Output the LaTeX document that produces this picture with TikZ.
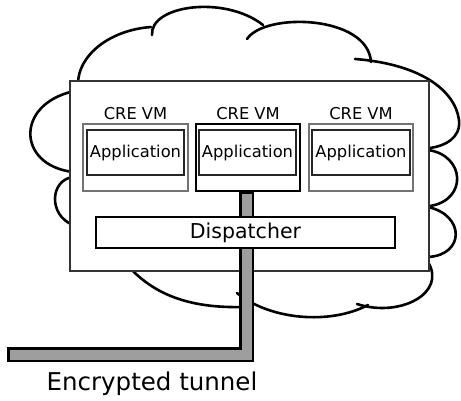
\documentclass[tikz,border=0pt]{standalone}
\usepackage{fontspec}
\setmainfont{DejaVu Sans}
\begin{document}
\begin{tikzpicture}[x=1pt,y=-1pt,
  cloudline/.style={line width=2.6pt,line cap=round},
  hostbox/.style={draw=black!80,line width=1.6pt,fill=white,inner sep=0pt},
  vmbox/.style={draw=black!55,line width=1.3pt,fill=white,inner sep=0pt,minimum height=67pt},
  appbox/.style={draw=black!85,line width=1.2pt,fill=white,inner sep=0pt,minimum height=45pt,
    font=\fontsize{16.3}{19}\selectfont},
  vmlabel/.style={inner sep=0pt,font=\fontsize{16.3}{19}\selectfont},
  dispbox/.style={draw=black,line width=2.2pt,fill=white,inner sep=0pt,
    minimum width=299pt,minimum height=31pt,font=\fontsize{20.5}{24}\selectfont},
  pipeouter/.style={draw=black,line width=15pt},
  pipeinner/.style={draw=black!38,line width=10pt}]
\useasboundingbox (0,0) rectangle (461,400);

% cloud outline, one arc per lobe
\draw[cloudline] (78,84) .. controls (78,55) and (110,30) .. (151,27);
\draw[cloudline] (152,35) .. controls (150,5) and (225,-5) .. (263,25);
\draw[cloudline] (247,39) .. controls (265,12) and (368,15) .. (371,62);
\draw[cloudline] (355,59) .. controls (420,64) and (455,90) .. (459,120)
                 .. controls (461,138) and (445,146) .. (430,148);
\draw[cloudline] (428,150) .. controls (465,155) and (468,200) .. (430,206);
\draw[cloudline] (428,207) .. controls (465,215) and (465,255) .. (428,257);
\draw[cloudline] (428,262) .. controls (447,293) and (400,318) .. (357,304);
\draw[cloudline] (237,293) .. controls (270,320) and (330,325) .. (368,305);
\draw[cloudline] (130,268) .. controls (160,300) and (200,308) .. (243,307);
\draw[cloudline] (80,90) .. controls (15,100) and (15,165) .. (73,172);
\draw[cloudline] (73,177) .. controls (50,180) and (48,215) .. (73,225);

% host machine
\node[hostbox,minimum width=359pt,minimum height=190pt] (host) at (249.5,176) {};

% virtual machines with their applications
\node[vmbox,minimum width=105pt] (vm1) at (135.5,157.5) {};
\node[vmbox,draw=black,minimum width=104pt] (vm2) at (248,157.5) {};
\node[vmbox,minimum width=104pt] (vm3) at (361,157.5) {};
\node[vmlabel] (lab1) at (135.5,114) {CRE VM};
\node[vmlabel] (lab2) at (248,114) {CRE VM};
\node[vmlabel] (lab3) at (361,114) {CRE VM};
\node[appbox,minimum width=97pt] (app1) at (135.5,152.5) {Application};
\node[appbox,minimum width=97pt] (app2) at (247.5,152.5) {Application};
\node[appbox,minimum width=98pt] (app3) at (361,152.5) {Application};

% encrypted tunnel
\coordinate (tunnelend) at (7,354.5);
\coordinate (tunnelin) at (9.5,354.5);
\draw[pipeouter] ([xshift=-1.5pt,yshift=-0.5pt]vm2.south) |- (tunnelend);
\draw[pipeinner] ([xshift=-1.5pt,yshift=-2.5pt]vm2.south) |- (tunnelin);

% dispatcher
\node[dispbox] (disp) at (245.5,232.5) {Dispatcher};

\node[inner sep=0pt,font=\fontsize{24.5}{29}\selectfont] (tunnel) at (152,384) {Encrypted tunnel};
\end{tikzpicture}
\end{document}
